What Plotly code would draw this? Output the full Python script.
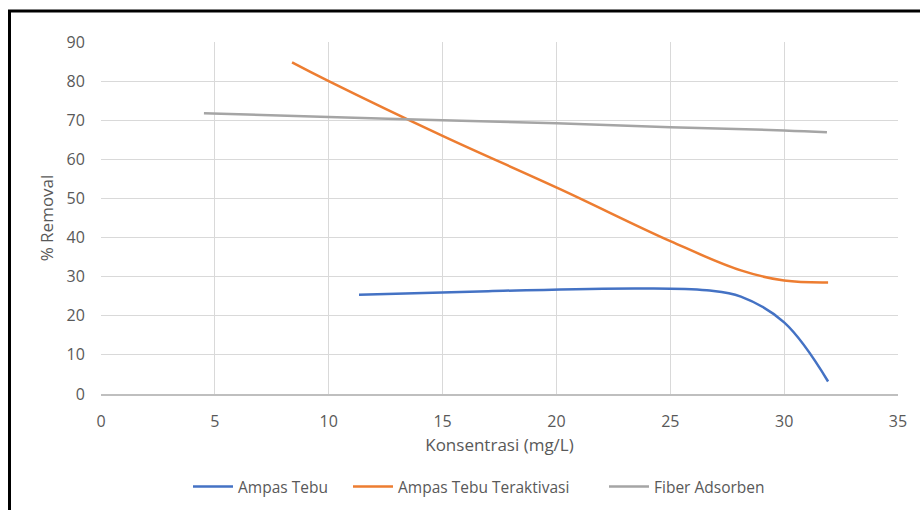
import plotly.graph_objects as go

# Data
ampas_x = [11.33, 17.0, 23.7, 26.6, 28.1, 30.0, 31.93]
ampas_y = [25.4, 26.3, 27.0, 26.5, 24.9, 18.3, 3.2]

aktif_x = [8.39, 10.0, 15.0, 20.16, 25.0, 28.1, 30.0, 31.93]
aktif_y = [84.8, 80.0, 66.0, 52.4, 39.1, 31.6, 29.0, 28.5]

fiber_x = [4.52, 10.0, 15.0, 20.0, 25.0, 30.0, 31.88]
fiber_y = [71.8, 70.8, 70.0, 69.2, 68.2, 67.4, 66.9]

x_ticks = [0, 5, 10, 15, 20, 25, 30, 35]
y_ticks = [0, 10, 20, 30, 40, 50, 60, 70, 80, 90]

FONT = "Open Sans"
TXT = "#595959"
GRID = "#d9d9d9"

L, R, T, B = 101, 22, 42, 116
PW, PH = 920 - L - R, 510 - T - B


def px_x(p):
    return (p - L) / PW


def px_y(p):
    return (510 - B - p) / PH


series = [
    ("Ampas Tebu", ampas_x, ampas_y, "#4472C4", "legend", 188),
    ("Ampas Tebu Teraktivasi", aktif_x, aktif_y, "#ED7D31", "legend2", 348),
    ("Fiber Adsorben", fiber_x, fiber_y, "#A5A5A5", "legend3", 604),
]

fig = go.Figure()
for name, xs, ys, col, leg, _ in series:
    fig.add_trace(go.Scatter(
        x=xs, y=ys, name=name, mode="lines", legend=leg,
        line=dict(color=col, width=2.5, shape="spline", smoothing=1.1),
    ))

legend_style = dict(
    orientation="h", yanchor="middle", xanchor="left",
    font=dict(family=FONT, size=15.5, color=TXT),
    itemwidth=40, bgcolor="rgba(0,0,0,0)", borderwidth=0,
)
layout_legends = {}
for name, xs, ys, col, leg, lx in series:
    layout_legends[leg] = dict(legend_style, x=px_x(lx), y=px_y(487))

fig.update_layout(
    width=920, height=510,
    margin=dict(l=L, r=R, t=T, b=B, autoexpand=False),
    paper_bgcolor="white", plot_bgcolor="white",
    font=dict(family=FONT, size=15, color=TXT),
    showlegend=True,
    xaxis=dict(
        range=[0, 35], tickvals=x_ticks, showgrid=True, gridcolor=GRID, gridwidth=1,
        zeroline=False, showline=True, linecolor="#bfbfbf", linewidth=1.5,
        ticks="outside", ticklen=12, tickcolor="rgba(0,0,0,0)", automargin=False,
        tickfont=dict(size=16, color=TXT),
        title=dict(text="Konsentrasi (mg/L)", font=dict(size=17, color=TXT), standoff=8),
    ),
    yaxis=dict(
        range=[0, 90], tickvals=y_ticks, showgrid=True, gridcolor=GRID, gridwidth=1,
        zeroline=False, showline=False, automargin=False,
        ticks="outside", ticklen=12, tickcolor="rgba(0,0,0,0)",
        tickfont=dict(size=16, color=TXT),
        title=dict(text="% Removal", font=dict(size=17, color=TXT), standoff=8),
    ),
    **layout_legends,
)

# chart-area frame (black), running off the right and bottom of the picture
fig.add_shape(type="line", xref="paper", yref="paper",
              x0=px_x(9.5), x1=px_x(9.5), y0=px_y(530), y1=px_y(11),
              line=dict(color="black", width=3), layer="above")
fig.add_shape(type="line", xref="paper", yref="paper",
              x0=px_x(8), x1=px_x(940), y0=px_y(11), y1=px_y(11),
              line=dict(color="black", width=3), layer="above")

fig.write_html("out.html")
